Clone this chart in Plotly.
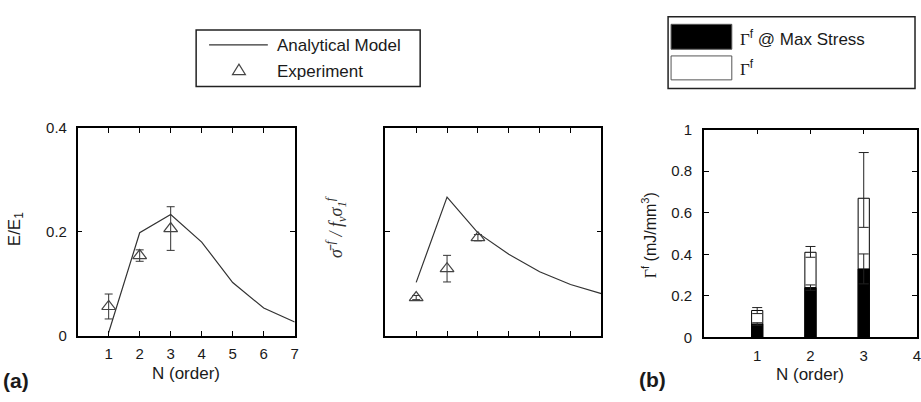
import plotly.graph_objects as go

W, H = 921, 402

# ---------------- data ----------------
N_model = [1, 2, 3, 4, 5, 6, 7]
E_model = [0.006, 0.198, 0.233, 0.180, 0.102, 0.053, 0.026]
N_exp = [1, 2, 3]
E_exp = [0.056, 0.154, 0.206]
E_exp_err = [0.024, 0.011, 0.042]

S_model = [0.256, 0.666, 0.494, 0.391, 0.307, 0.246, 0.202]
S_exp = [0.183, 0.322, 0.471]
S_exp_err = [0.010, 0.064, 0.015]

N_bar = [1, 2, 3]
gamma_total = [0.130, 0.410, 0.670]
gamma_total_err_plus = [0.014, 0.028, 0.220]
gamma_total_err_minus = [0.015, 0.024, 0.140]
gamma_max = [0.065, 0.240, 0.330]
gamma_max_err = [0.006, 0.013, 0.072]

ticks_a = [1, 2, 3, 4, 5, 6, 7]
ticks_b = [1, 2, 3, 4]

SANS = "Liberation Sans, Arial, sans-serif"
SERIF = "Liberation Serif, Times New Roman, serif"
INK = "#1a1a1a"


def px(x):
    return x / W


def py(y):
    return 1 - y / H


fig = go.Figure()

# panel (a)
fig.add_trace(go.Scatter(x=N_model, y=E_model, mode="lines", name="Analytical Model",
                         line=dict(color="#333333", width=1.2), xaxis="x", yaxis="y",
                         showlegend=False))
fig.add_trace(go.Scatter(x=N_exp, y=E_exp, mode="markers", name="Experiment",
                         marker=dict(symbol="triangle-up-open", size=12, color="#444444",
                                     line=dict(width=1.2)),
                         error_y=dict(type="data", array=E_exp_err, color="#333333",
                                      thickness=1, width=4),
                         xaxis="x", yaxis="y", showlegend=False))

# middle panel
fig.add_trace(go.Scatter(x=N_model, y=S_model, mode="lines", name="Analytical Model",
                         line=dict(color="#333333", width=1.2), xaxis="x2", yaxis="y2",
                         showlegend=False))
fig.add_trace(go.Scatter(x=N_exp, y=S_exp, mode="markers", name="Experiment",
                         marker=dict(symbol="triangle-up-open", size=12, color="#444444",
                                     line=dict(width=1.2)),
                         error_y=dict(type="data", array=S_exp_err, color="#333333",
                                      thickness=1, width=4),
                         xaxis="x2", yaxis="y2", showlegend=False))

# panel (b) bars
fig.add_trace(go.Bar(x=N_bar, y=gamma_total, name="Γf", width=0.21,
                     marker=dict(color="white", line=dict(color="black", width=1)),
                     error_y=dict(type="data", array=gamma_total_err_plus,
                                  arrayminus=gamma_total_err_minus, color="#222222",
                                  thickness=1, width=5),
                     xaxis="x3", yaxis="y3", showlegend=False))
fig.add_trace(go.Bar(x=N_bar, y=gamma_max, name="Γf @ Max Stress", width=0.21,
                     marker=dict(color="black", line=dict(color="black", width=1)),
                     error_y=dict(type="data", array=gamma_max_err, color="#222222",
                                  thickness=1, width=5),
                     xaxis="x3", yaxis="y3", showlegend=False))

axis_common = dict(showline=True, linecolor="black", linewidth=1.5, mirror="ticks",
                   ticks="inside", ticklen=5, tickcolor="black", tickwidth=1,
                   showgrid=False, zeroline=False)

fig.update_layout(
    width=W, height=H,
    margin=dict(l=0, r=0, t=0, b=0),
    paper_bgcolor="white", plot_bgcolor="white",
    barmode="overlay",
    showlegend=False,
    font=dict(family=SANS, color=INK, size=14),
    xaxis=dict(domain=[px(78), px(296)], range=[0, 7], tickvals=ticks_a,
               anchor="y", tickfont=dict(size=15), ticklabelstandoff=4, **axis_common),
    yaxis=dict(domain=[py(341), py(124)], range=[0, 0.4], tickvals=[0, 0.2, 0.4],
               ticktext=["0", "0.2", "0.4"], anchor="x", tickfont=dict(size=15),
               ticklabelstandoff=6, **axis_common),
    xaxis2=dict(domain=[px(387), px(604)], range=[0, 7], tickvals=[1, 2, 3, 4, 5, 6],
                showticklabels=False, anchor="y2", **axis_common),
    yaxis2=dict(domain=[py(341), py(124)], range=[0, 1], tickvals=[0.5],
                showticklabels=False, anchor="x2", **axis_common),
    xaxis3=dict(domain=[px(707), 1.0], range=[0, 4], tickvals=ticks_b,
                ticklabeloverflow="allow",
                anchor="y3", tickfont=dict(size=15), ticklabelstandoff=4, **axis_common),
    yaxis3=dict(domain=[py(343), py(126)], range=[0, 1],
                tickvals=[0, 0.2, 0.4, 0.6, 0.8, 1],
                ticktext=["0", "0.2", "0.4", "0.6", "0.8", "1"],
                anchor="x3", tickfont=dict(size=15), ticklabelstandoff=7, **axis_common),
)

ann = []
# axis titles
ann.append(dict(x=px(187), y=py(381), text="N (order)", font=dict(size=17)))
ann.append(dict(x=px(814), y=py(382), text="N (order)", font=dict(size=17)))
ann.append(dict(x=px(16), y=py(230), text="E/E<sub>1</sub>", textangle=-90,
                font=dict(size=17)))
ann.append(dict(x=px(337), y=py(228),
                text="<i>σ̄ <sup>f</sup> / f<sub>v</sub>σ<sub>1</sub><sup>f</sup></i>",
                textangle=-90, font=dict(size=18, family=SERIF, color="#333333")))
ann.append(dict(x=px(652), y=py(236),
                text="<span style='font-family:Liberation Serif'>Γ</span><sup>f</sup> (mJ/mm<sup>3</sup>)",
                textangle=-90, font=dict(size=16)))
# panel labels
ann.append(dict(x=px(1), y=py(388), text="<b>(a)</b>", xanchor="left",
                font=dict(size=21)))
ann.append(dict(x=px(640), y=py(387), text="<b>(b)</b>", xanchor="left",
                font=dict(size=21)))
# legend 1 texts
ann.append(dict(x=px(276), y=py(38), text="Analytical Model", xanchor="left",
                font=dict(size=17)))
ann.append(dict(x=px(276), y=py(65), text="Experiment", xanchor="left",
                font=dict(size=17)))
# legend 2 texts
ann.append(dict(x=px(741), y=py(30),
                text="<span style='font-family:Liberation Serif'>Γ</span><sup>f</sup> @ Max Stress",
                xanchor="left", font=dict(size=17)))
ann.append(dict(x=px(741), y=py(62),
                text="<span style='font-family:Liberation Serif'>Γ</span><sup>f</sup>",
                xanchor="left", font=dict(size=17)))

for a in ann:
    a.setdefault("xanchor", "center")
    a.setdefault("yanchor", "middle")
    a.update(xref="paper", yref="paper", showarrow=False)
fig.update_layout(annotations=ann)

shapes = []
# legend 1 box
shapes.append(dict(type="rect", x0=px(197), x1=px(422), y0=py(81), y1=py(22),
                   line=dict(color="#222222", width=1.5), fillcolor="white"))
shapes.append(dict(type="line", x0=px(210), x1=px(269), y0=py(37.5), y1=py(37.5),
                   line=dict(color="#333333", width=1.2)))
tx, ty = 240, 64
shapes.append(dict(type="path",
                   path=f"M {px(tx-6.5)},{py(ty+4.5)} L {px(tx+6.5)},{py(ty+4.5)} L {px(tx)},{py(ty-6.5)} Z",
                   line=dict(color="#444444", width=1.2)))
# legend 2 box
shapes.append(dict(type="rect", x0=px(671), x1=px(919), y0=py(83), y1=py(8),
                   line=dict(color="#222222", width=1.5), fillcolor="white"))
shapes.append(dict(type="rect", x0=px(674), x1=px(735), y0=py(42), y1=py(16),
                   line=dict(color="#555555", width=1), fillcolor="black"))
shapes.append(dict(type="rect", x0=px(674), x1=px(735), y0=py(74), y1=py(49),
                   line=dict(color="#555555", width=1), fillcolor="white"))
for s in shapes:
    s.update(xref="paper", yref="paper")
fig.update_layout(shapes=shapes)

fig.write_html("out.html")
